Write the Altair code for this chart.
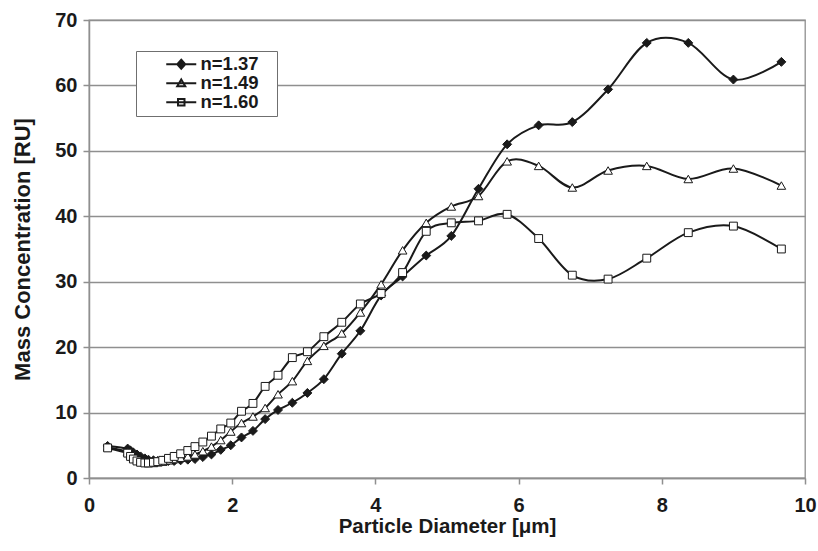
import altair as alt
import pandas as pd

# Particle diameter channels (µm), shared by all three series
diameter = [0.26, 0.54, 0.58, 0.62, 0.67, 0.72, 0.78, 0.83, 0.90, 0.96,
            1.03, 1.11, 1.19, 1.28, 1.38, 1.48, 1.59, 1.71, 1.84, 1.98,
            2.13, 2.29, 2.46, 2.64, 2.84, 3.05, 3.28, 3.53, 3.79, 4.08,
            4.38, 4.71, 5.06, 5.44, 5.84, 6.28, 6.75, 7.25, 7.79, 8.37,
            9.00, 9.67]

n137 = [4.9, 4.5, 4.2, 3.9, 3.6, 3.3, 3.0, 2.8, 2.7, 2.6,
        2.6, 2.6, 2.6, 2.7, 2.8, 2.9, 3.2, 3.6, 4.3, 5.0,
        6.2, 7.2, 9.0, 10.4, 11.5, 13.0, 15.1, 19.0, 22.5, 27.9,
        30.8, 34.0, 37.0, 44.2, 51.0, 53.9, 54.4, 59.4, 66.5, 66.5,
        60.9, 63.6]

n149 = [4.7, 4.0, 3.6, 3.2, 2.9, 2.6, 2.4, 2.3, 2.3, 2.4,
        2.5, 2.7, 2.9, 3.1, 3.3, 3.6, 4.1, 4.8, 5.8, 7.1,
        8.4, 9.4, 10.7, 12.8, 14.8, 17.9, 20.2, 22.1, 25.3, 29.6,
        34.8, 39.0, 41.5, 43.1, 48.4, 47.7, 44.4, 47.0, 47.7, 45.7,
        47.3, 44.7]

n160 = [4.6, 3.8, 3.3, 2.9, 2.6, 2.4, 2.3, 2.3, 2.4, 2.5,
        2.7, 3.0, 3.3, 3.7, 4.2, 4.8, 5.5, 6.4, 7.5, 8.4,
        10.2, 11.4, 14.0, 15.7, 18.4, 19.3, 21.6, 23.8, 26.6, 28.2,
        31.4, 37.7, 39.0, 39.3, 40.3, 36.6, 31.0, 30.4, 33.6, 37.5,
        38.5, 35.0]

series_names = ["n=1.37", "n=1.49", "n=1.60"]
series_values = [n137, n149, n160]

rows = []
for name, vals in zip(series_names, series_values):
    for d, v in zip(diameter, vals):
        rows.append({"d": d, "m": v, "series": name})
df = pd.DataFrame(rows)

FONT = "Liberation Sans"
INK = "#1a1a1a"
GRID = "#8f8f8f"

x_enc = alt.X("d:Q", scale=alt.Scale(domain=[0, 10]),
              axis=alt.Axis(values=[0, 2, 4, 6, 8, 10], grid=False, format="d",
                            labelFlush=False,
                            title="Particle Diameter [\u03bcm]"))
y_enc = alt.Y("m:Q", scale=alt.Scale(domain=[0, 70]),
              axis=alt.Axis(values=[0, 10, 20, 30, 40, 50, 60, 70], grid=True,
                            format="d", labelFlush=False,
                            title="Mass Concentration [RU]"))

base = alt.Chart(df)

lines = base.mark_line(color=INK, strokeWidth=2, interpolate="cardinal").encode(
    x=x_enc, y=y_enc, detail="series:N")

diam = base.transform_filter(alt.datum.series == "n=1.37").mark_point(
    shape="diamond", filled=True, fill=INK, stroke=INK, strokeWidth=1,
    size=80, opacity=1).encode(x="d:Q", y="m:Q")
tri = base.transform_filter(alt.datum.series == "n=1.49").mark_point(
    shape="triangle-up", filled=True, fill="white", stroke=INK,
    strokeWidth=1, size=75, opacity=1).encode(x="d:Q", y="m:Q")
sq = base.transform_filter(alt.datum.series == "n=1.60").mark_point(
    shape="square", filled=True, fill="white", stroke=INK,
    strokeWidth=1, size=62, opacity=1).encode(x="d:Q", y="m:Q")

# legend glyphs: a short line with the marker on it (unit = 5 px at size 100)
legend_paths = [
    "M-3,0H3M0,-0.9L0.8,0L0,0.9L-0.8,0Z",
    "M-3,0H3M0,-0.75L0.8,0.6L-0.8,0.6Z",
    "M-3,0H3M-0.65,-0.65H0.65V0.65H-0.65Z",
]

leg_common = dict(title=None, orient="none", legendX=47, legendY=31)

legend_layer = base.mark_point(filled=True, opacity=0, strokeWidth=2).encode(
    x="d:Q", y="m:Q",
    shape=alt.Shape("series:N",
                    scale=alt.Scale(domain=series_names, range=legend_paths),
                    legend=alt.Legend(symbolOpacity=1, symbolSize=100,
                                      symbolStrokeWidth=2,
                                      symbolOffset=32,
                                      padding=4, rowPadding=0,
                                      labelOffset=10,
                                      labelExpr="datum.label + '\u2800'",
                                      strokeColor="#6f6f6f",
                                      fillColor="white",
                                      labelFont=FONT, labelFontSize=18.5,
                                      labelFontWeight="bold",
                                      labelColor=INK, **leg_common)),
    fill=alt.Fill("series:N",
                  scale=alt.Scale(domain=series_names,
                                  range=[INK, "white", "white"]),
                  legend=alt.Legend(**leg_common)),
    stroke=alt.Stroke("series:N",
                      scale=alt.Scale(domain=series_names,
                                      range=[INK, INK, INK]),
                      legend=alt.Legend(**leg_common)),
)

chart = alt.layer(lines, diam, tri, sq, legend_layer).properties(
    width=716, height=458,
    autosize=alt.AutoSizeParams(type="none"),
    padding={"left": 89, "top": 20, "right": 13, "bottom": 73},
    background="white",
).configure_view(
    stroke=GRID, strokeWidth=1.3
).configure_axis(
    labelFont=FONT, labelFontSize=20, labelFontWeight="bold", labelColor=INK,
    titleFont=FONT, titleFontWeight="bold", titleColor=INK,
    domainColor=GRID, domainWidth=1.5, tickColor=GRID, tickWidth=1.5,
    tickSize=6, gridColor=GRID, gridWidth=1.3, gridOpacity=1,
).configure_axisX(
    labelPadding=11, titlePadding=1, titleFontSize=20.5,
).configure_axisY(
    labelPadding=6, titlePadding=20, titleFontSize=22,
)

chart.save("out.html", embed_options={"renderer": "svg", "actions": False})
